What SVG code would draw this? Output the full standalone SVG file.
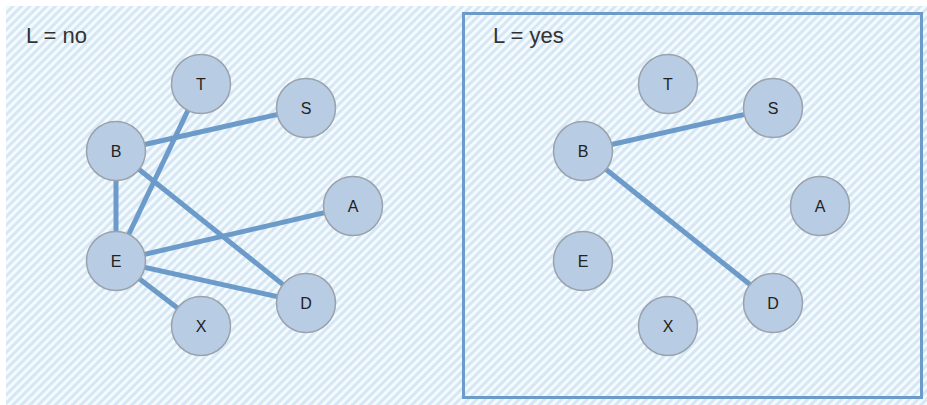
<svg xmlns="http://www.w3.org/2000/svg" width="927" height="405" viewBox="0 0 927 405">
<defs>
<pattern id="hatch" width="6" height="6" patternUnits="userSpaceOnUse" patternTransform="rotate(45)">
<rect width="6" height="6" fill="#f5fafd"/>
<rect width="3" height="6" fill="#d5e7f5"/>
</pattern>
</defs>
<style>
.node circle{fill:#b8cce4;stroke:#9aa3ad;stroke-width:1.5}
.node text{font-family:"Liberation Sans",Arial,sans-serif;font-size:16px;fill:#222;text-anchor:middle;dominant-baseline:central}
.edge{stroke:#6c9bc9;stroke-width:5;fill:none}
.title{font-family:"Liberation Sans",Arial,sans-serif;font-size:22px;fill:#333}
</style>
<rect x="6" y="6" width="921" height="399" fill="url(#hatch)"/>
<rect x="463.5" y="13.5" width="458" height="384" fill="none" stroke="#6c9bc9" stroke-width="3"/>
<text class="title" x="26" y="43">L = no</text>
<text class="title" x="493" y="43">L = yes</text>
<g id="connectors">
<line class="edge" x1="116" y1="151" x2="306" y2="108"/>
<line class="edge" x1="201" y1="83" x2="116" y2="261"/>
<line class="edge" x1="116" y1="151" x2="116" y2="261"/>
<line class="edge" x1="116" y1="151" x2="306" y2="303"/>
<line class="edge" x1="116" y1="261" x2="353" y2="206"/>
<line class="edge" x1="116" y1="261" x2="306" y2="303"/>
<line class="edge" x1="116" y1="261" x2="201" y2="326"/>
<line class="edge" x1="583" y1="151" x2="773" y2="108"/>
<line class="edge" x1="583" y1="151" x2="773" y2="303"/>
</g>
<g id="node-T1" class="node"><circle cx="201" cy="84" r="29.5"/><text x="201" y="84">T</text></g>
<g id="node-S1" class="node"><circle cx="306" cy="108" r="29.5"/><text x="306" y="108">S</text></g>
<g id="node-B1" class="node"><circle cx="116" cy="151" r="29.5"/><text x="116" y="151">B</text></g>
<g id="node-A1" class="node"><circle cx="353" cy="206" r="29.5"/><text x="353" y="206">A</text></g>
<g id="node-E1" class="node"><circle cx="116" cy="261" r="29.5"/><text x="116" y="261">E</text></g>
<g id="node-D1" class="node"><circle cx="306" cy="303" r="29.5"/><text x="306" y="303">D</text></g>
<g id="node-X1" class="node"><circle cx="201" cy="326" r="29.5"/><text x="201" y="326">X</text></g>
<g id="node-T2" class="node"><circle cx="668" cy="84" r="29.5"/><text x="668" y="84">T</text></g>
<g id="node-S2" class="node"><circle cx="773" cy="108" r="29.5"/><text x="773" y="108">S</text></g>
<g id="node-B2" class="node"><circle cx="583" cy="151" r="29.5"/><text x="583" y="151">B</text></g>
<g id="node-A2" class="node"><circle cx="820" cy="206" r="29.5"/><text x="820" y="206">A</text></g>
<g id="node-E2" class="node"><circle cx="583" cy="261" r="29.5"/><text x="583" y="261">E</text></g>
<g id="node-D2" class="node"><circle cx="773" cy="303" r="29.5"/><text x="773" y="303">D</text></g>
<g id="node-X2" class="node"><circle cx="668" cy="326" r="29.5"/><text x="668" y="326">X</text></g>
</svg>
